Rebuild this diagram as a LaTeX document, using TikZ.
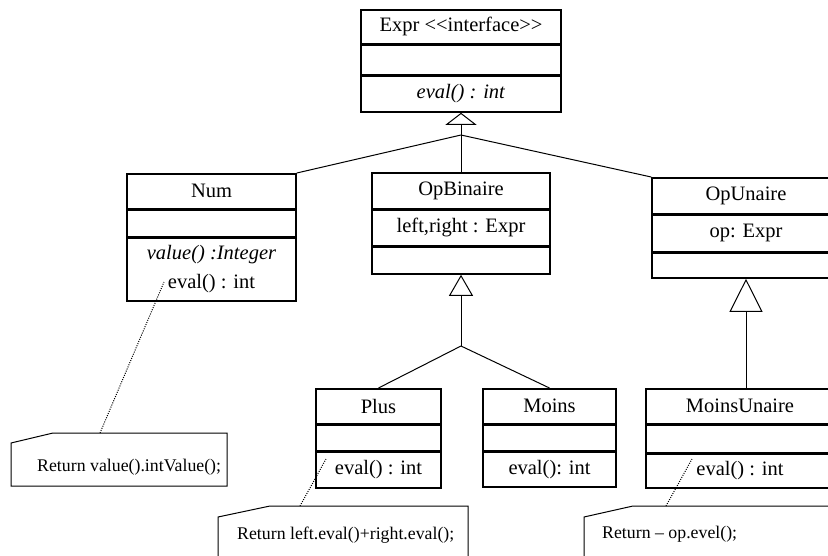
\documentclass[tikz,border=0pt]{standalone}
\usepackage{fontspec}
\setmainfont{Liberation Serif}
\usetikzlibrary{arrows.meta}
\usetikzlibrary{positioning}
\tikzstyle{classpart} = [draw, line width=1.6pt, inner sep=0pt, align=center, font=\fontsize{20.5}{29}\selectfont]
\tikzstyle{inherit} = [draw, line width=1pt]
\tikzstyle{notebox} = [draw, line width=1pt]
\tikzstyle{notetext} = [anchor=west, inner sep=0pt, font=\fontsize{17.8}{21}\selectfont]
\tikzstyle{attach} = [draw, dash pattern=on 1pt off 1.3pt, line width=1pt]

\begin{document}
\begin{tikzpicture}[x=1pt, y=-1pt]

  \useasboundingbox (0,0) rectangle (828,555);
  \clip (0,0) rectangle (828,555);

  % classes: name/x/top/width/h1/h2/h3/head/attributes/methods
  \foreach \name/\x/\y/\w/\ha/\hb/\hc/\head/\attr/\meth in {
      expr/461/9/200/34/29/36/{Expr <{}<interface>{}>}/{}/{\textit{eval() : int}},
      num/211.5/173/169/35/26/63/{Num}/{}/{\textit{value() :Integer}\\eval() : int},
      opbin/461/172/178/36/35/27/{OpBinaire}/{left,right : Expr}/{},
      opun/746/177/188/36/36/25/{OpUnaire}/{op: Expr}/{},
      plus/378.5/388/125/35/25/36/{Plus}/{}/{eval() : int},
      moins/549.5/388/133/35/25/35/{Moins}/{}/{eval(): int},
      moinsun/740/388/188/35/27/34/{MoinsUnaire}/{}/{eval() : int}}
  {
      \node[classpart, anchor=north, minimum width=\w pt, minimum height=\ha pt] (\name) at (\x,\y) {\head};
      \node[classpart, anchor=north, minimum width=\w pt, minimum height=\hb pt] (\name-a) at (\name.south) {\attr};
      \node[classpart, anchor=north, minimum width=\w pt, minimum height=\hc pt] (\name-m) at (\name-a.south) {\meth};
  }

  % generalisation
  \coordinate (top-join) at (461,135);
  \draw[inherit, -{Triangle[open, length=12pt, width=31pt]}] (top-join) -- (expr-m.south);
  \foreach \child in {opbin.north, num.north east, opun.north west}
      \draw[inherit] (\child) -- (top-join);

  \coordinate (bin-join) at (461,346);
  \draw[inherit, -{Triangle[open, length=21pt, width=24pt]}] (bin-join) -- (opbin-m.south);
  \foreach \child in {plus, moins}
      \draw[inherit] (\child.north) -- (bin-join);

  \draw[inherit, -{Triangle[open, length=33pt, width=33pt]}] (opun-m.south |- moinsun.north) -- (opun-m.south);

  % notes
  \draw[notebox] (11,443) -- (53,433) -- (227,433) -- (227,486) -- (11,486) -- cycle;
  \node[notetext] (numnote) at (37,467) {Return value().intValue();};
  \draw[notebox] (218,517) -- (270,506) -- (468,506) -- (468,560) -- (218,560) -- cycle;
  \node[notetext] (plusnote) at (237,535) {Return left.eval()+right.eval();};
  \draw[notebox] (584,517) -- (633,506) -- (840,506) -- (840,560) -- (584,560) -- cycle;
  \node[notetext] (moinsunnote) at (602,534) {Return -- op.evel();};

  \coordinate (numnote-pin) at (100,433);
  \coordinate (num-pin) at (164,282);
  \coordinate (plusnote-pin) at (300,506);
  \coordinate (plus-pin) at (326,459);
  \coordinate (moinsunnote-pin) at (666,506);
  \coordinate (moinsun-pin) at (692,459);
  \foreach \from/\to in {numnote-pin/num-pin, plusnote-pin/plus-pin, moinsunnote-pin/moinsun-pin}
      \draw[attach] (\from) -- (\to);

\end{tikzpicture}
\end{document}
